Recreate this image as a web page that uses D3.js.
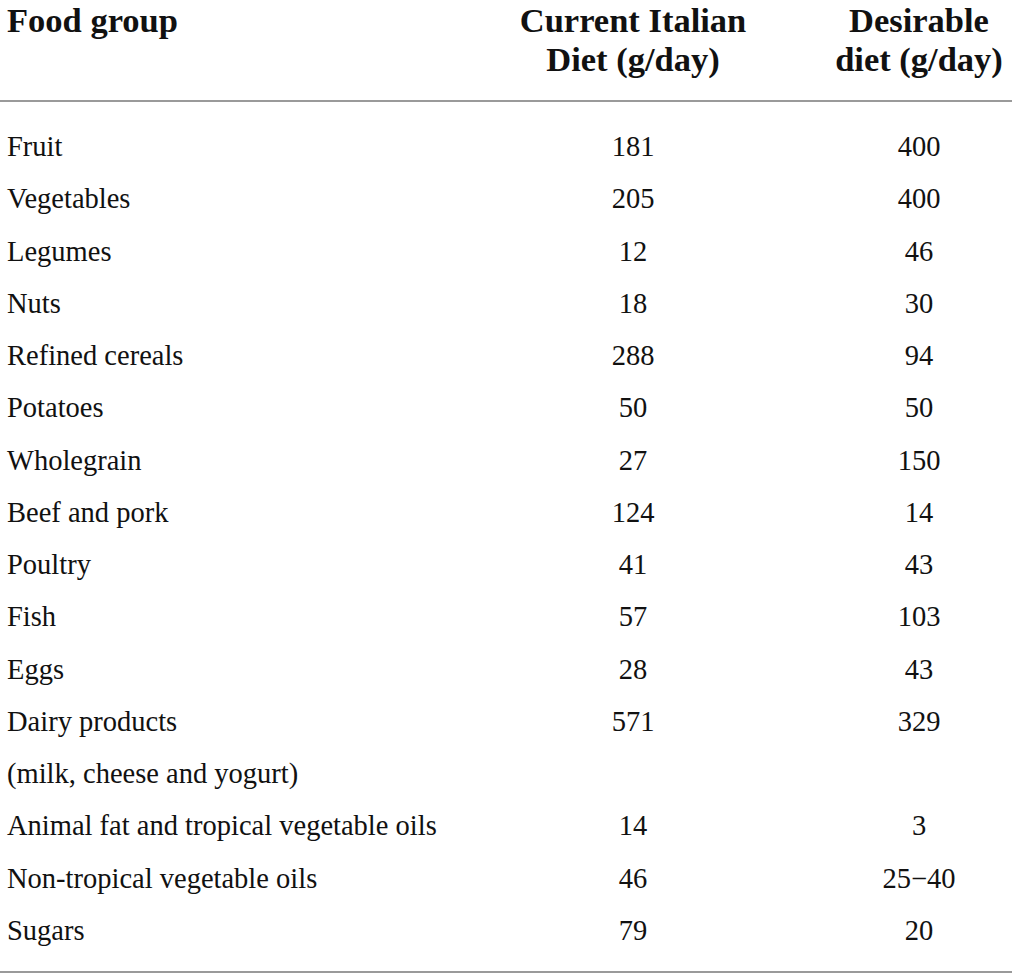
<!DOCTYPE html>
<html>
<head>
<meta charset="utf-8">
<script src="https://cdn.jsdelivr.net/npm/d3@7"></script>
<style>
  html, body { margin: 0; padding: 0; background: #fff; }
  svg { display: block; }
  text { font-family: "Liberation Serif", "DejaVu Serif", serif; fill: #111; }
</style>
</head>
<body>
<svg id="table" width="1017" height="978"></svg>
<script>
const WIDTH = 1017;
const HEIGHT = 978;

// table content
const headers = [
  ["Food group"],
  ["Current Italian", "Diet (g/day)"],
  ["Desirable", "diet (g/day)"]
];

const foodGroups = [
  "Fruit", "Vegetables", "Legumes", "Nuts", "Refined cereals", "Potatoes",
  "Wholegrain", "Beef and pork", "Poultry", "Fish", "Eggs",
  "Dairy products\n(milk, cheese and yogurt)",
  "Animal fat and tropical vegetable oils", "Non-tropical vegetable oils", "Sugars"
];
const currentDiet = ["181", "205", "12", "18", "288", "50", "27", "124", "41", "57", "28", "571", "14", "46", "79"];
const desirableDiet = ["400", "400", "46", "30", "94", "50", "150", "14", "43", "103", "43", "329", "3", "25\u221240", "20"];

// lay rows out on text lines (a two-line label takes two slots)
let lines = [];
foodGroups.forEach((g, i) => {
  g.split("\n").forEach((part, j) => {
    lines.push({
      label: part,
      current: j === 0 ? currentDiet[i] : "",
      desirable: j === 0 ? desirableDiet[i] : ""
    });
  });
});

const svg = d3.select("#table");

const y = d3.scaleLinear()
  .domain([0, lines.length - 1])
  .range([156, 940]);

const colX = [7, 633, 919];

// header
const head = svg.append("g").attr("class", "header");
headers.forEach((h, c) => {
  h.forEach((txt, k) => {
    head.append("text")
      .attr("x", colX[c])
      .attr("y", 32 + k * 38.5)
      .attr("text-anchor", c === 0 ? "start" : "middle")
      .attr("font-weight", "bold")
      .attr("font-size", 34.5)
      .text(txt);
  });
});

// rules
svg.append("line")
  .attr("x1", 0).attr("x2", 1012)
  .attr("y1", 101).attr("y2", 101)
  .attr("stroke", "#9a9a9a")
  .attr("stroke-width", 2);

svg.append("line")
  .attr("x1", 0).attr("x2", 1012)
  .attr("y1", 972).attr("y2", 972)
  .attr("stroke", "#9a9a9a")
  .attr("stroke-width", 2);

// body rows
const rows = svg.append("g").attr("class", "body")
  .selectAll("g")
  .data(lines)
  .enter()
  .append("g")
  .attr("transform", (d, i) => `translate(0,${y(i)})`);

rows.append("text")
  .attr("x", colX[0])
  .attr("font-size", 28.5)
  .text(d => d.label);

rows.append("text")
  .attr("x", colX[1])
  .attr("text-anchor", "middle")
  .attr("font-size", 28.5)
  .text(d => d.current);

rows.append("text")
  .attr("x", colX[2])
  .attr("text-anchor", "middle")
  .attr("font-size", 28.5)
  .text(d => d.desirable);
</script>
</body>
</html>
